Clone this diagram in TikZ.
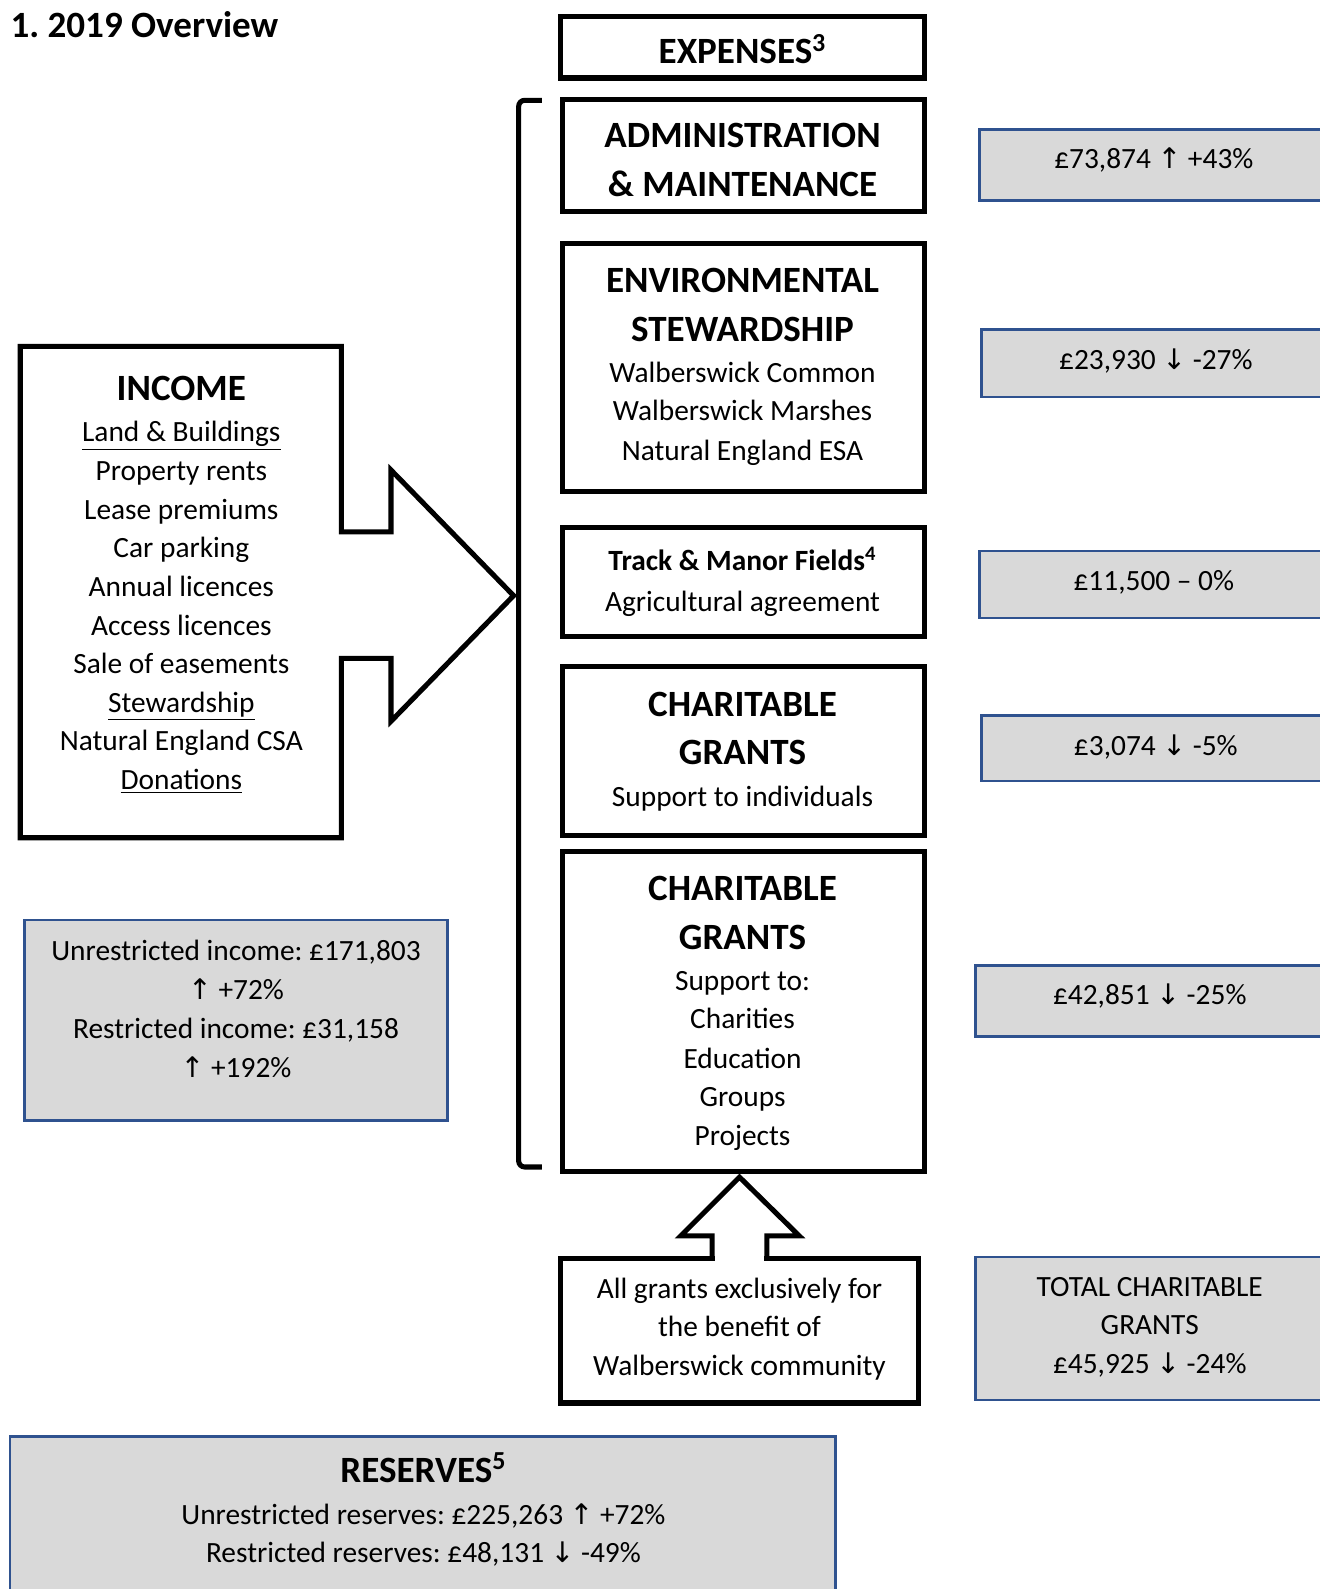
\documentclass[tikz,border=0pt]{standalone}
\usepackage{fontspec}
\setmainfont{Carlito}
\newfontfamily\arrfont{DejaVu Sans}
\frenchspacing
\newcommand{\upa}{{\arrfont\fontsize{14}{15}\selectfont ↑}}
\newcommand{\dna}{{\arrfont\fontsize{14}{15}\selectfont ↓}}
\definecolor{boxblue}{HTML}{2F528F}
\definecolor{boxgray}{HTML}{D9D9D9}
\newcommand{\mybox}[6]{\node[#2, minimum width={(#5-#3)*0.5pt}, minimum height={(#6-#4)*0.5pt}, inner sep=0pt] (#1) at ({(#3+#5)/2},{(#4+#6)/2}) {};}
\tikzset{
  blk/.style={draw=black, line width=2.5pt, fill=white},
  gry/.style={draw=boxblue, line width=1.3pt, fill=boxgray},
  txt/.style={font=\fontsize{14.5}{17}\selectfont, inner sep=0pt, anchor=base},
  hd/.style={font=\fontsize{18.3}{22}\selectfont\bfseries, inner sep=0pt, anchor=base},
  bt/.style={font=\fontsize{14.5}{17}\selectfont\bfseries, inner sep=0pt, anchor=base},
  shp/.style={draw=black, line width=2.5pt, fill=white, line join=miter},
}
\begin{document}
\begin{tikzpicture}[x=0.5pt,y=-0.5pt]
\useasboundingbox (0,0) rectangle (1303,1568.6);

% title
\node[hd, anchor=base west] (title) at (10,37) {1. 2019 Overview};

% bracket
\draw[line width=2.5pt, rounded corners=3pt] (535,99) -- (512,99) -- (512,1152) -- (535,1152);

% income shape with arrow
\draw[shp] (20,342) -- (337,342) -- (337,525) -- (386,525) -- (386,464) -- (507,588)
  -- (386,712) -- (386,650) -- (337,650) -- (337,827) -- (20,827) -- cycle;
\coordinate (inc) at (179,342);
\node[hd] (incT) at (179,395) {INCOME};
\node[txt] (inc1) at (179,436) {\underline{Land \& Buildings}};
\node[txt] (inc2) at (179,474.5) {Property rents};
\node[txt] (inc3) at (179,512.5) {Lease premiums};
\node[txt] (inc4) at (179,550.5) {Car parking};
\node[txt] (inc5) at (179,589) {Annual licences};
\node[txt] (inc6) at (179,627) {Access licences};
\node[txt] (inc7) at (179,665) {Sale of easements};
\node[txt] (inc8) at (179,703) {\underline{Stewardship}};
\node[txt] (inc9) at (179,741) {Natural England CSA};
\node[txt] (inc10) at (179,779.5) {\underline{Donations}};

% expenses column
\mybox{exp}{blk}{553}{16}{913}{77}
\node[hd] at (733,63) {EXPENSES\textsuperscript{3}};

\mybox{adm}{blk}{555}{98}{913}{209}
\node[hd] at (733,146) {ADMINISTRATION};
\node[hd] at (733,194) {\& MAINTENANCE};

\mybox{env}{blk}{555}{240}{913}{485}
\node[hd] at (733,289) {ENVIRONMENTAL};
\node[hd] at (733,337) {STEWARDSHIP};
\node[txt] at (733,377.5) {Walberswick Common};
\node[txt] at (733,415.5) {Walberswick Marshes};
\node[txt] at (733,454.5) {Natural England ESA};

\mybox{trk}{blk}{555}{521}{913}{628}
\node[bt] at (733,563.5) {Track \& Manor Fields\textsuperscript{4}};
\node[txt] at (733,603.5) {Agricultural agreement};

\mybox{cg1}{blk}{555}{658}{913}{825}
\node[hd] at (733,707) {CHARITABLE};
\node[hd] at (733,755) {GRANTS};
\node[txt] at (733,796.5) {Support to individuals};

\mybox{cg2}{blk}{555}{841}{913}{1156}
\node[hd] at (733,889) {CHARITABLE};
\node[hd] at (733,937) {GRANTS};
\node[txt] at (733,977.5) {Support to:};
\node[txt] at (733,1015.5) {Charities};
\node[txt] at (733,1054.5) {Education};
\node[txt] at (733,1092.5) {Groups};
\node[txt] at (733,1130.5) {Projects};

% all grants box with up arrow
\mybox{all}{blk}{553}{1242}{907}{1385}
\node[txt] at (730,1281.5) {All grants exclusively for};
\node[txt] at (730,1319.5) {the benefit of};
\node[txt] at (730,1357.5) {Walberswick community};
\fill[white] (703,1236) -- (703,1220) -- (672,1220) -- (730,1162) -- (789,1220) -- (757,1220) -- (757,1236) -- cycle;
\fill[white] (706,1236) rectangle (754,1246);
\draw[line width=2.5pt, line join=miter] (703,1242) -- (703,1220) -- (672,1220) -- (730,1162)
  -- (789,1220) -- (757,1220) -- (757,1242);

% right gray value boxes
\mybox{v1}{gry}{967}{128}{1340}{198}
\node[txt] at (1139,166.5) {£73,874 \upa{} +43\%};
\mybox{v2}{gry}{969}{325}{1340}{392}
\node[txt] at (1141,364.5) {£23,930 \dna{} -27\%};
\mybox{v3}{gry}{967}{544}{1340}{610}
\node[txt] at (1139,582.5) {£11,500 – 0\%};
\mybox{v4}{gry}{969}{706}{1340}{771}
\node[txt] at (1141,745.5) {£3,074 \dna{} -5\%};
\mybox{v5}{gry}{963}{953}{1340}{1023}
\node[txt] at (1135,991.5) {£42,851 \dna{} -25\%};
\mybox{v6}{gry}{963}{1241}{1340}{1382}
\node[txt] at (1135,1279.5) {TOTAL CHARITABLE};
\node[txt] at (1135,1317.5) {GRANTS};
\node[txt] at (1135,1355.5) {£45,925 \dna{} -24\%};

% income summary
\mybox{incs}{gry}{24}{908}{442}{1106}
\node[txt] at (233,948.5) {Unrestricted income: £171,803};
\node[txt] at (233,987) {\upa{} +72\%};
\node[txt] at (233,1025) {Restricted income: £31,158};
\node[txt] at (233,1063.5) {\upa{} +192\%};

% reserves
\mybox{res}{gry}{10}{1418}{825}{1610}
\node[hd] at (418,1463) {RESERVES\textsuperscript{5}};
\node[txt] at (418,1504.5) {Unrestricted reserves: £225,263 \upa{} +72\%};
\node[txt] at (418,1542.5) {Restricted reserves: £48,131 \dna{} -49\%};
\end{tikzpicture}
\end{document}
